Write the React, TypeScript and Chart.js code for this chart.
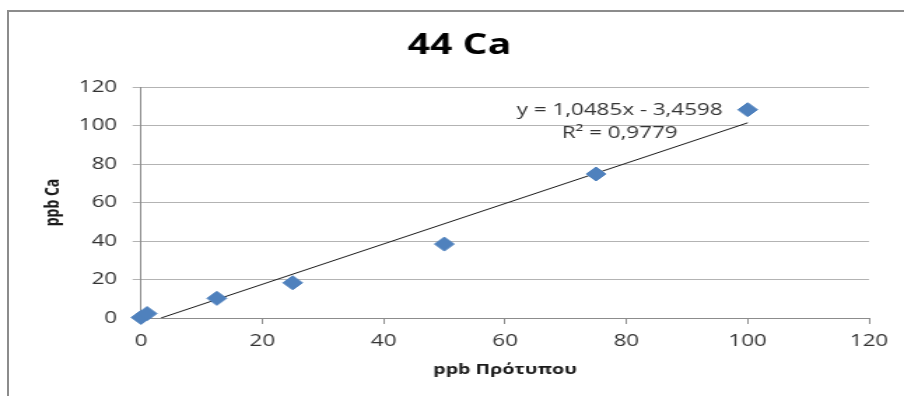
import { useEffect, useRef } from 'react';
import { Chart, registerables } from 'chart.js';

Chart.register(...registerables);

// ---- data ----
const standardPpb = [0, 1, 12.5, 25, 50, 75, 100];
const measuredPpb = [0.3, 2.3, 10.2, 18.3, 38.4, 74.8, 108.2];
const slope = 1.0485;
const intercept = -3.4598;
const rSquared = 0.9779;
const trendRange = [3.3, 100];
const xTicks = [0, 20, 40, 60, 80, 100, 120];
const yTicks = [0, 20, 40, 60, 80, 100, 120];
const chartTitle = '44 Ca';
const xTitle = 'ppb Πρότυπου';
const yTitle = 'ppb Ca';

const fmt = (v: number) => v.toFixed(4).replace('.', ',');
const equationText = `y = ${fmt(slope)}x ${intercept < 0 ? '-' : '+'} ${fmt(Math.abs(intercept))}`;
const r2Text = `R² = ${fmt(rSquared)}`;
const equationAnchor = { x: 78.9, y1: 107.8, y2: 96.1 };

const STRETCH = 904 / 646;
const FONT = "'Open Sans'";

const equationPlugin = {
  id: 'equationLabel',
  afterDatasetsDraw(chart: any) {
    const { ctx, scales } = chart;
    const x = scales.x;
    const y = scales.y;
    ctx.save();
    ctx.font = `16px ${FONT}`;
    ctx.fillStyle = '#333333';
    ctx.textAlign = 'center';
    ctx.textBaseline = 'middle';
    const cx = x.getPixelForValue(equationAnchor.x);
    ctx.fillText(equationText, cx, y.getPixelForValue(equationAnchor.y1));
    ctx.fillText(r2Text, cx, y.getPixelForValue(equationAnchor.y2));
    ctx.restore();
  },
};

export default function App() {
  const canvasRef = useRef<HTMLCanvasElement | null>(null);

  useEffect(() => {
    if (!canvasRef.current) return;
    const points = standardPpb.map((v, i) => ({ x: v, y: measuredPpb[i] }));
    const trend = trendRange.map((v) => ({ x: v, y: slope * v + intercept }));

    const chart = new Chart(canvasRef.current, {
      type: 'scatter',
      data: {
        datasets: [
          {
            label: 'data',
            data: points,
            pointStyle: 'rectRot',
            pointRadius: 7,
            pointHoverRadius: 7,
            backgroundColor: '#4F81BD',
            borderColor: '#4F81BD',
            borderWidth: 1,
            clip: false,
            order: 1,
          } as any,
          {
            label: 'trend',
            type: 'line',
            data: trend,
            borderColor: '#1a1a1a',
            borderWidth: 1,
            pointRadius: 0,
            fill: false,
            order: 2,
          } as any,
        ],
      },
      options: {
        responsive: true,
        maintainAspectRatio: false,
        animation: false,
        layout: { padding: { left: 35.7, right: 25, top: 0, bottom: 18 } },
        plugins: {
          legend: { display: false },
          tooltip: { enabled: false },
          title: {
            display: true,
            text: chartTitle,
            color: '#000000',
            font: { family: FONT, size: 28, weight: 'bold' },
            padding: { top: 29.3, bottom: 24.1 },
          },
        },
        scales: {
          x: {
            type: 'linear',
            min: 0,
            max: 120,
            afterBuildTicks: (scale: any) => {
              scale.ticks = xTicks.map((v) => ({ value: v }));
            },
            afterFit: (scale: any) => {
              scale.height = 60;
            },
            ticks: {
              color: '#333333',
              font: { family: FONT, size: 16 },
              padding: 8,
              maxRotation: 0,
            },
            grid: {
              drawOnChartArea: false,
              drawTicks: true,
              tickLength: 6,
              color: '#8c8c8c',
            },
            border: { display: true, color: '#8c8c8c', width: 1 },
            title: {
              display: true,
              text: xTitle,
              color: '#1a1a1a',
              font: { family: FONT, size: 14, weight: 'bold' },
              padding: { top: 0, bottom: 0 },
            },
          },
          y: {
            type: 'linear',
            min: 0,
            max: 120,
            afterBuildTicks: (scale: any) => {
              scale.ticks = yTicks.map((v) => ({ value: v }));
            },
            afterFit: (scale: any) => {
              scale.width = 65.06;
            },
            ticks: {
              color: '#333333',
              font: { family: FONT, size: 16 },
              padding: 11,
            },
            grid: {
              drawOnChartArea: true,
              drawTicks: true,
              tickLength: 6,
              color: '#b3b3b3',
            },
            border: { display: true, color: '#8c8c8c', width: 1 },
            title: {
              display: true,
              text: yTitle,
              color: '#1a1a1a',
              font: { family: FONT, size: 14, weight: 'bold' },
              padding: { top: -6.3, bottom: 0 },
            },
          },
        },
      },
      plugins: [equationPlugin],
    });
    return () => chart.destroy();
  }, []);

  return (
    <div
      style={{
        position: 'fixed',
        left: 0,
        top: 0,
        width: 904,
        height: 396,
        overflow: 'hidden',
        background: '#ffffff',
      }}
    >
      <div
        style={{
          position: 'absolute',
          left: 0,
          top: 0,
          width: 646,
          height: 396,
          transform: `scaleX(${STRETCH})`,
          transformOrigin: '0 0',
        }}
      >
        <canvas ref={canvasRef} />
      </div>
      <div
        style={{
          position: 'absolute',
          left: 7,
          top: 10,
          width: 920,
          height: 420,
          borderTop: '2px solid #8c8c8c',
          borderLeft: '2px solid #8c8c8c',
          pointerEvents: 'none',
        }}
      />
    </div>
  );
}
